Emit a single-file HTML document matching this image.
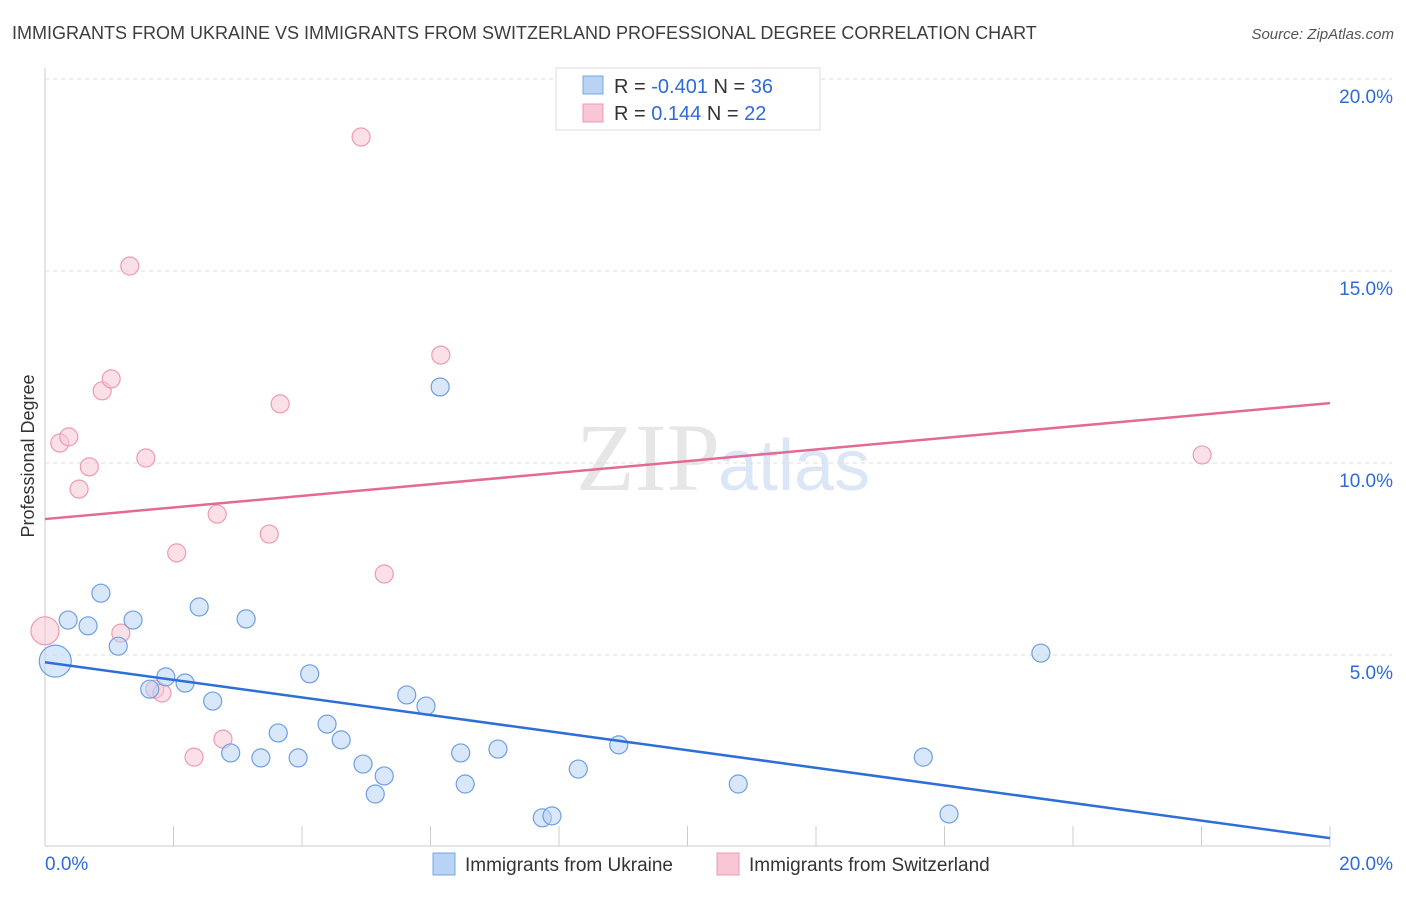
<!DOCTYPE html>
<html><head><meta charset="utf-8"><style>
body{margin:0;background:#fff;font-family:"Liberation Sans",sans-serif;}
</style></head><body>
<svg width="1406" height="892" xmlns="http://www.w3.org/2000/svg" id="chart">
<text x="12" y="39" font-size="18" fill="#3d3d3d">IMMIGRANTS FROM UKRAINE VS IMMIGRANTS FROM SWITZERLAND PROFESSIONAL DEGREE CORRELATION CHART</text>
<text x="1394" y="39" font-size="15" fill="#555" font-style="italic" text-anchor="end">Source: ZipAtlas.com</text>
<text x="720" y="490" font-size="96" font-family="Liberation Serif" fill="#e6e6e6" text-anchor="end">ZIP</text>
<text x="718" y="490" font-size="72" fill="#dbe6f6">atlas</text>
<text transform="translate(34,456) rotate(-90)" font-size="18" fill="#333" text-anchor="middle">Professional Degree</text>
<g id="grid"></g><g id="axes"></g><g id="marks"></g>
<g>
<rect x="556" y="68" width="264" height="62" fill="#fff" stroke="#ddd"/>
<rect x="583" y="76" width="20" height="18" fill="#b9d3f5" stroke="#7aa6e3"/>
<rect x="583" y="104" width="20" height="18" fill="#f9c6d5" stroke="#ec9ab3"/>
<text x="614" y="93" font-size="20" fill="#333">R = <tspan fill="#2d6bd6">-0.401</tspan>   N = <tspan fill="#2d6bd6">36</tspan></text>
<text x="614" y="120" font-size="20" fill="#333">R =   <tspan fill="#2d6bd6">0.144</tspan>   N = <tspan fill="#2d6bd6">22</tspan></text>
</g>
<g>
<rect x="433" y="853" width="22" height="22" fill="#b9d3f5" stroke="#7aa6e3"/>
<text x="465" y="871" font-size="19" fill="#333">Immigrants from Ukraine</text>
<rect x="717" y="853" width="22" height="22" fill="#f9c6d5" stroke="#ec9ab3"/>
<text x="749" y="871" font-size="19" fill="#333">Immigrants from Switzerland</text>
</g>
</svg>
<script>
const yTicks=[5,10,15,20];
const yTickLabels=["5.0%","10.0%","15.0%","20.0%"];
const xTickLabels=["0.0%","20.0%"];
const ukrX=[0.16,0.36,0.67,0.87,1.14,1.37,1.63,1.88,2.18,2.40,2.61,2.89,3.13,3.36,3.63,3.94,4.12,4.39,4.61,4.95,5.14,5.28,5.63,5.93,6.47,6.54,7.05,7.74,7.89,8.30,8.93,10.79,13.67,14.07,15.50,6.15];
const ukrY=[4.84,5.91,5.76,6.61,5.23,5.91,4.11,4.43,4.27,6.25,3.80,2.45,5.94,2.32,2.97,2.32,4.51,3.20,2.79,2.16,1.38,1.85,3.96,3.67,2.45,1.64,2.55,0.76,0.81,2.03,2.66,1.64,2.34,0.86,5.05,11.98];
const swiX=[0,0.23,0.37,0.53,0.69,0.89,1.03,1.18,1.32,1.57,1.71,1.82,2.05,2.32,2.68,2.77,3.49,3.66,4.92,5.28,6.16,18.01];
const swiY=[5.63,10.52,10.68,9.32,9.90,11.88,12.19,5.57,15.13,10.13,4.11,4.01,7.66,2.34,8.67,2.81,8.15,11.54,18.49,7.11,12.81,10.21];
const ukrTrend=[4.81,0.23];
const swiTrend=[8.54,11.56];
const NS="http://www.w3.org/2000/svg";
const X=v=>45+v*64.25, Y=v=>847-v*38.4;
function mk(t,a,p){const e=document.createElementNS(NS,t);for(const k in a)e.setAttribute(k,a[k]);document.getElementById(p).appendChild(e);return e;}
yTicks.forEach((t,i)=>{
 const l=mk('line',{x1:45,x2:1392,y1:Y(t),y2:Y(t),stroke:'#ddd','stroke-dasharray':'4,4'},'grid');
 
 
 const tx=mk('text',{x:1393,y:Y(t)+24,'font-size':19,fill:'#2d6bd6','text-anchor':'end'},'axes');
 tx.textContent=yTickLabels[i];
 
 
});
mk('line',{x1:45,x2:45,y1:68,y2:846,stroke:'#ccc'},'axes');
mk('line',{x1:45,x2:1330,y1:846,y2:846,stroke:'#ccc'},'axes');
for(let i=1;i<=10;i++){const t=mk('line',{x1:X(i*2),x2:X(i*2),y1:826,y2:846,stroke:'#ccc'},'axes');
 
 }
[[X(0),'start'],[1393,'end']].forEach((p,i)=>{const t=mk('text',{x:p[0],y:870,'font-size':19,fill:'#2d6bd6','text-anchor':p[1]},'axes');
 t.textContent=xTickLabels[i];
 
 });
function dots(xs,ys,fill,stroke,big,name){xs.forEach((x,i)=>{
 const c=mk('circle',{cx:X(x),cy:Y(ys[i]),r:i===0?big:9,fill:fill,stroke:stroke,'fill-opacity':0.55,'stroke-width':1.2},'marks');
 
 });}
dots(swiX,swiY,'#f9c6d5','#ec9ab3',14,'switzerland-point');
dots(ukrX,ukrY,'#b9d3f5','#6f9fe0',16,'ukraine-point');
const l1=mk('line',{x1:X(0),y1:Y(ukrTrend[0]),x2:X(20),y2:Y(ukrTrend[1]),stroke:'#2d6fd6','stroke-width':2.5},'marks');


const l2=mk('line',{x1:X(0),y1:Y(swiTrend[0]),x2:X(20),y2:Y(swiTrend[1]),stroke:'#e56a93','stroke-width':2.5},'marks');


</script>
</body></html>
